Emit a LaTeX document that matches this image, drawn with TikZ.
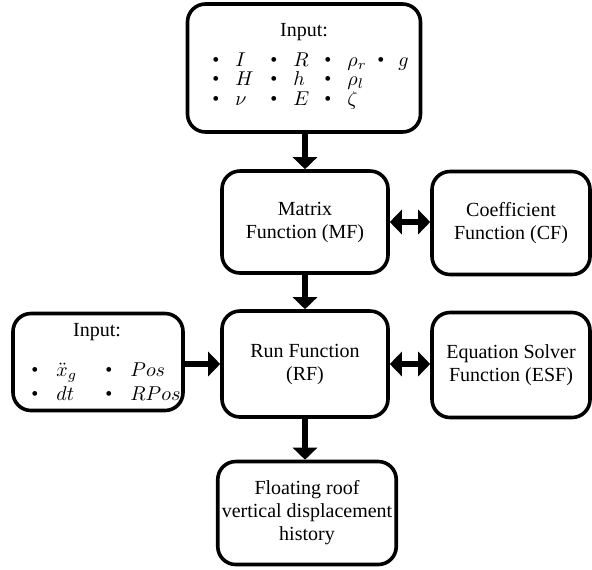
\documentclass[tikz,border=0pt]{standalone}
\usepackage{fontspec}
\setmainfont{Liberation Serif}
\usetikzlibrary{positioning, arrows.meta}

\begin{document}
\begin{tikzpicture}[
    x=0.5pt, y=-0.5pt,
    font=\fontsize{10pt}{11.5pt}\selectfont,
    % Estilos
    box/.style={
        draw, rectangle, rounded corners=9pt, fill=white, align=center,
        line width=1.8pt, inner sep=2pt
    },
    fbox/.style={box, minimum width=83pt, minimum height=51pt},
    sbox/.style={box, minimum width=79pt, minimum height=51.5pt},
    arr/.style={line width=3pt, -{Triangle[width=12pt, length=6pt]}},
    darr/.style={line width=3pt, {Triangle[width=12pt, length=6pt]}-{Triangle[width=12pt, length=6pt]}}
]
    \useasboundingbox (0,0) rectangle (592,569);

    % --- NÓS ---
    \node[box, minimum width=116.5pt, minimum height=64pt] (inTop) at (304,68) {};
    \node (inTopHead) at (304,32) {Input:};
    \node[anchor=west, inner sep=0pt] (inTopVars) at (212,82) {%
        \renewcommand{\arraystretch}{0.85}\setlength{\tabcolsep}{0pt}%
        \begin{tabular}{@{}p{29pt}p{27pt}p{26.5pt}l@{}}
        \textbullet\hspace{8pt}$I$ & \textbullet\hspace{8pt}$R$ & \textbullet\hspace{8pt}$\rho_r$ & \textbullet\hspace{7pt}$g$\\
        \textbullet\hspace{8pt}$H$ & \textbullet\hspace{8pt}$h$ & \textbullet\hspace{8pt}$\rho_l$ & \\
        \textbullet\hspace{8pt}$\nu$ & \textbullet\hspace{8pt}$E$ & \textbullet\hspace{8pt}$\zeta$ &
        \end{tabular}};

    \node[fbox] (mf) at (305,222) {Matrix\\Function (MF)};
    \node[sbox] (cf) at (511,223) {Coefficient\\Function (CF)};

    \node[fbox, minimum height=53pt] (rf) at (305,364) {Run Function\\(RF)};
    \node[sbox, minimum height=52.5pt] (esf) at (511,365) {Equation Solver\\Function (ESF)};

    \node[box, minimum width=85pt, minimum height=48.5pt] (inLeft) at (98,362) {};
    \node (inLeftHead) at (97,332) {Input:};
    \node[anchor=west, inner sep=0pt] (inLeftVars) at (31,384) {%
        \renewcommand{\arraystretch}{1.05}\setlength{\tabcolsep}{0pt}%
        \begin{tabular}{@{}p{37pt}l@{}}
        \textbullet\hspace{9pt}$\ddot{x}_g$ & \textbullet\hspace{9pt}$Pos$\\
        \textbullet\hspace{9pt}$dt$ & \textbullet\hspace{9pt}$RPos$
        \end{tabular}};

    \node[box, minimum width=82.5pt, minimum height=51.5pt] (hist) at (307,513) {Floating roof\\vertical displacement\\history};

    % --- CONEXÕES ---
    \draw[arr] (inTop.south -| mf.north) -- (mf.north);
    \draw[darr] (mf.east) -- (mf.east -| cf.west);
    \draw[arr] (mf.south) -- (rf.north);
    \draw[darr] (rf.east) -- (rf.east -| esf.west);
    \draw[arr] (inLeft.east |- rf.west) -- (rf.west);
    \draw[arr] (rf.south) -- (rf.south |- hist.north);

\end{tikzpicture}
\end{document}
